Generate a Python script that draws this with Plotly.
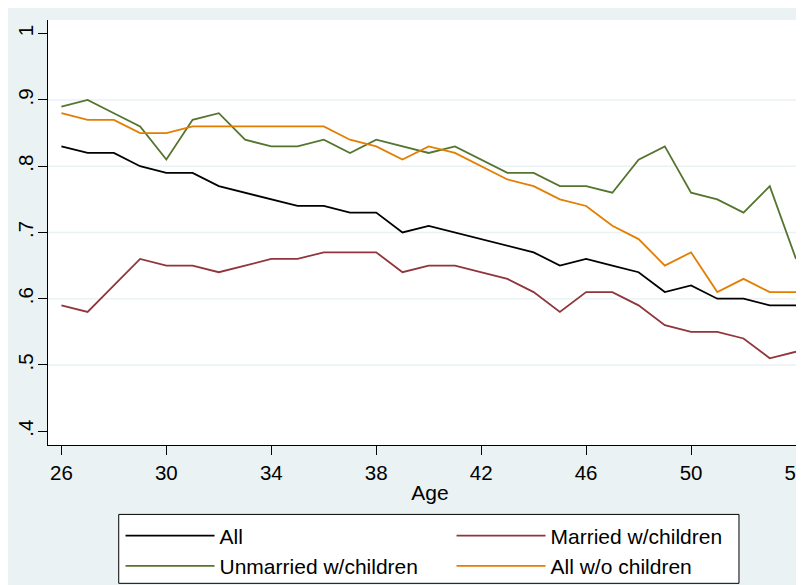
import plotly.graph_objects as go

age = list(range(26, 55))

all_ = [0.83, 0.82, 0.82, 0.80, 0.79, 0.79, 0.77, 0.76, 0.75, 0.74, 0.74, 0.73, 0.73, 0.70, 0.71,
        0.70, 0.69, 0.68, 0.67, 0.65, 0.66, 0.65, 0.64, 0.61, 0.62, 0.60, 0.60, 0.59, 0.59]
married = [0.59, 0.58, 0.62, 0.66, 0.65, 0.65, 0.64, 0.65, 0.66, 0.66, 0.67, 0.67, 0.67, 0.64, 0.65,
           0.65, 0.64, 0.63, 0.61, 0.58, 0.61, 0.61, 0.59, 0.56, 0.55, 0.55, 0.54, 0.51, 0.52]
unmarried = [0.89, 0.90, 0.88, 0.86, 0.81, 0.87, 0.88, 0.84, 0.83, 0.83, 0.84, 0.82, 0.84, 0.83, 0.82,
             0.83, 0.81, 0.79, 0.79, 0.77, 0.77, 0.76, 0.81, 0.83, 0.76, 0.75, 0.73, 0.77, 0.66]
nochild = [0.88, 0.87, 0.87, 0.85, 0.85, 0.86, 0.86, 0.86, 0.86, 0.86, 0.86, 0.84, 0.83, 0.81, 0.83,
           0.82, 0.80, 0.78, 0.77, 0.75, 0.74, 0.71, 0.69, 0.65, 0.67, 0.61, 0.63, 0.61, 0.61]

series_names = ["All", "Married w/children", "Unmarried w/children", "All w/o children"]
series_colors = ["#000000", "#90353B", "#55752F", "#E37E00"]

x_ticks = [26, 30, 34, 38, 42, 46, 50, 54]
y_ticks = [0.4, 0.5, 0.6, 0.7, 0.8, 0.9, 1.0]
y_ticktext = [".4", ".5", ".6", ".7", ".8", ".9", "1"]
grid_vals = [0.5, 0.6, 0.7, 0.8, 0.9]

W, H = 804, 585
L, T, B, R = 40.3, 12, 147.5, 0
pw = W - L - R
ph = H - T - B


def px_x(fx):
    return (fx - L) / pw


def px_y(fy):
    return (H - B - fy) / ph


fig = go.Figure()
for name, ys, col in zip(series_names, [all_, married, unmarried, nochild], series_colors):
    fig.add_trace(go.Scatter(x=age, y=ys, mode="lines", name=name,
                             line=dict(color=col, width=1.8)))

shapes = []
for g in grid_vals:
    shapes.append(dict(type="line", xref="paper", yref="y", x0=0, x1=1, y0=g, y1=g,
                       line=dict(color="#EAF2F3", width=1.5), layer="below"))
# legend box
shapes.append(dict(type="rect", xref="paper", yref="paper",
                   x0=px_x(111), x1=px_x(731), y0=px_y(576), y1=px_y(507),
                   fillcolor="white", line=dict(color="black", width=1), layer="above"))

font = "Liberation Sans, Arial, sans-serif"
fig.update_layout(
    width=W, height=H,
    margin=dict(l=L, r=R, t=T, b=B, pad=0),
    paper_bgcolor="#EAF2F3", plot_bgcolor="white",
    template="none",
    font=dict(family=font, size=21, color="black"),
    shapes=shapes,
    showlegend=True,
    legend=dict(orientation="h", x=px_x(112.8), y=px_y(508),
                xanchor="left", yanchor="top",
                bgcolor="rgba(0,0,0,0)", borderwidth=0,
                font=dict(family=font, size=21, color="black"),
                itemwidth=89, entrywidth=227, entrywidthmode="pixels",
                traceorder="normal"),
    xaxis=dict(range=[25.489, 54.61], tickvals=x_ticks, showgrid=False, zeroline=False,
               showline=True, linecolor="black", linewidth=1,
               ticks="outside", ticklen=9, tickcolor="black", tickwidth=1,
               tickfont=dict(size=20.5), automargin=False,
               title=dict(text="Age", font=dict(size=21), standoff=2)),
    yaxis=dict(range=[0.3792, 1.0207], tickvals=y_ticks, ticktext=y_ticktext,
               showgrid=False, zeroline=False,
               showline=True, linecolor="black", linewidth=1,
               ticks="outside", ticklen=9, tickcolor="black", tickwidth=1,
               tickangle=-90, tickfont=dict(size=20.5), automargin=False,
               ticklabelstandoff=-3),
)

fig.write_html("out.html")
